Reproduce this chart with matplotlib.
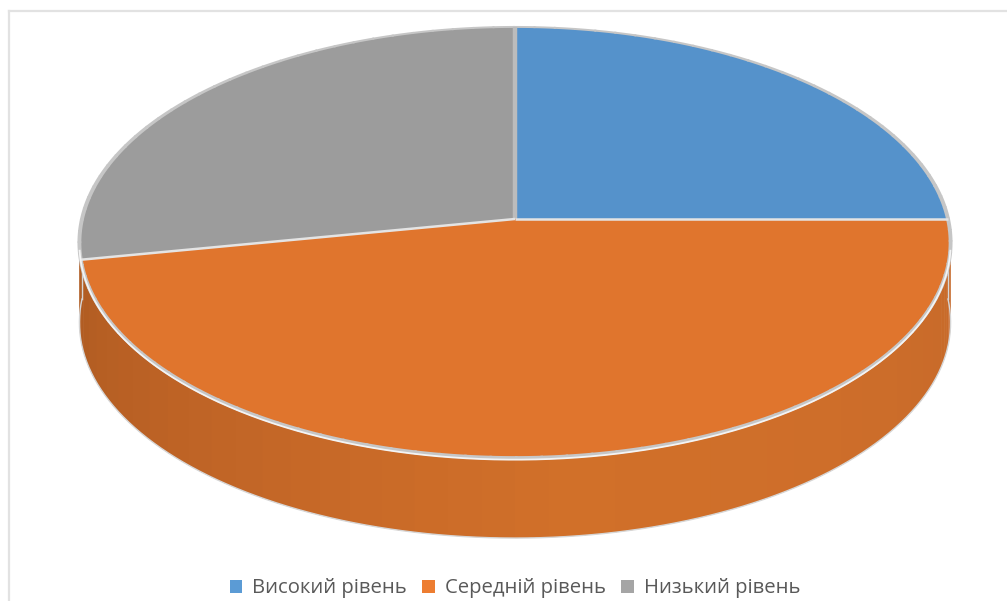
import numpy as np
from matplotlib import pyplot as plt
from matplotlib.patches import Patch

categories = ['Високий рівень', 'Середній рівень', 'Низький рівень']
values = [25, 47, 28]

top_colors = ['#5592cb', '#e0752d', '#9c9c9c']
legend_colors = ['#5b9bd5', '#ed7d31', '#a5a5a5']

# pie geometry in pixels of the picture
CX, CY = 515, 219
RX, RY = 433, 213
PERSP = 0.109
DEPTH = 80


def project(theta, shift=0.0):
    # perspective view of a flat circle, theta in degrees
    t = np.radians(theta)
    u, v = np.cos(t), np.sin(t)
    return CX + RX * u / (1 + PERSP * v), CY - RY * v / (1 + PERSP * v) + shift


def wall_color(theta):
    # theta runs 0 (right) to -180 (left) along the front of the pie
    stops = [-180, -150, -110, -85, -50, -20, 0]
    reds = [0xac, 0xb8, 0xc8, 0xd1, 0xce, 0xc9, 0xc6]
    greens = [0x5a, 0x60, 0x69, 0x70, 0x6e, 0x6b, 0x69]
    blues = [0x20, 0x24, 0x28, 0x29, 0x2a, 0x2a, 0x2a]
    # steps instead of a smooth blend, the original has visible facets
    theta = round(theta / 4.0) * 4.0
    return (np.interp(theta, stops, reds) / 255,
            np.interp(theta, stops, greens) / 255,
            np.interp(theta, stops, blues) / 255)


fig = plt.figure(figsize=(10.07, 6.01), dpi=100)
ax = fig.add_axes([0, 0, 1, 1])
ax.set_xlim(0, 1007)
ax.set_ylim(601, 0)
ax.axis('off')

# chart frame
ax.plot([8.5, 8.5], [601, 11], color='#e2e2e2', lw=1.6)
ax.plot([8.5, 1007], [11, 11], color='#e2e2e2', lw=1.6)

# angles of the slices, clockwise from 12 o'clock
edges = 90 - np.cumsum([0] + values) / sum(values) * 360.0

# side wall, only the front is visible
wall_start, wall_end = edges[1], -180.0

for a in np.arange(wall_end, wall_start, 2.0):
    seg = np.linspace(a, a + 2.4, 4)
    x1, y1 = project(seg)
    x2, y2 = project(seg, DEPTH)
    ax.fill(np.concatenate([x1, x2[::-1]]), np.concatenate([y1, y2[::-1]]),
            color=wall_color(a + 1), lw=0, zorder=3)

# thin light edge round the wall
full = np.linspace(-180, 0, 361)
xb, yb = project(full, DEPTH)
ax.plot(xb, yb, color='#d6d6d6', lw=1.0, zorder=3.5)
for side in [-180, 0]:
    ex, ey = project(side)
    ax.plot([ex, ex], [ey, ey + DEPTH], color='#d6d6d6', lw=1.0, zorder=3.5)

# top face
for i in range(len(values)):
    seg = np.linspace(edges[i], edges[i + 1], 200)
    x, y = project(seg)
    x = np.concatenate([[CX], x])
    y = np.concatenate([[CY], y])
    ax.fill(x, y, color=top_colors[i], lw=0, zorder=4)

# rim, thin at the back and getting heavier towards the sides and front
for a in np.arange(0, 360, 3.0):
    seg = np.linspace(a, a + 3.3, 5)
    rx, ry = project(seg)
    width = 1.4 + 1.4 * min(1.0, (1 - np.sin(np.radians(a + 1.5))) / 0.9)
    ax.plot(rx, ry, color='#c6c6c6', lw=width, zorder=5, solid_capstyle='butt')
front = np.linspace(-172, -8, 300)
fx, fy = project(front, 1.6)
ax.plot(fx, fy, color='#f4f4f4', lw=1.3, zorder=6)

# slice borders
for i, a in enumerate(edges[:-1]):
    ex, ey = project(a)
    ax.plot([CX, ex], [CY, ey], color='#e4e4e4' if i != 0 else '#bcbcbc',
            lw=1.8 if i != 0 else 3.2, zorder=5, solid_capstyle='butt')

handles = [Patch(facecolor=c, edgecolor='none') for c in legend_colors]
ax.legend(handles, categories, loc='lower center', bbox_to_anchor=(515 / 1007, -0.026),
          ncol=3, frameon=False, labelcolor='#595959',
          prop={'family': 'Open Sans', 'size': 14.6},
          handlelength=0.62, handleheight=0.62, handletextpad=0.5, columnspacing=0.75)

fig.savefig('out.png', dpi=100)
